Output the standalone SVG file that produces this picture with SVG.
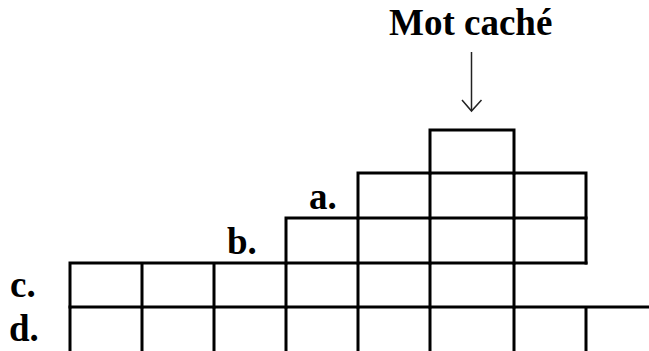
<svg xmlns="http://www.w3.org/2000/svg" width="649" height="351" viewBox="0 0 649 351">
<style>
.g{fill:none;stroke:#000;stroke-width:3;stroke-linecap:square}
.t{font-family:"Liberation Serif","Times New Roman",serif;font-weight:bold;font-size:37px;fill:#000}
.ar{fill:none;stroke:#222;stroke-width:1.5}
</style>
<rect width="649" height="351" fill="#fff"/>
<g id="title"><text class="t" x="389" y="35">Mot caché</text></g>
<g id="arrow">
<line class="ar" x1="471.5" y1="52" x2="471.5" y2="110"/>
<polyline class="ar" points="462,100 471.5,111 481.5,100"/>
</g>
<g id="hidden-cell"><path class="g" d="M430,173V130H514V173"/></g>
<g id="row-a">
<path class="g" d="M358,173H586M358,173V218M430,173V218M514,173V218M586,173V218"/>
<text class="t" x="309" y="209">a.</text>
</g>
<g id="row-b">
<path class="g" d="M286,218H586M286,218V263M358,218V263M430,218V263M514,218V263M586,218V263"/>
<text class="t" x="227" y="254">b.</text>
</g>
<g id="row-c">
<path class="g" d="M70,263H586M70,263V307M142,263V307M214,263V307M286,263V307M358,263V307M430,263V307M514,263V307"/>
<text class="t" x="10" y="297">c.</text>
</g>
<g id="row-d">
<path class="g" d="M70,307H652M70,307V355M142,307V355M214,307V355M286,307V355M358,307V355M430,307V355M514,307V355M586,307V355"/>
<text class="t" x="9" y="341">d.</text>
</g>
</svg>
